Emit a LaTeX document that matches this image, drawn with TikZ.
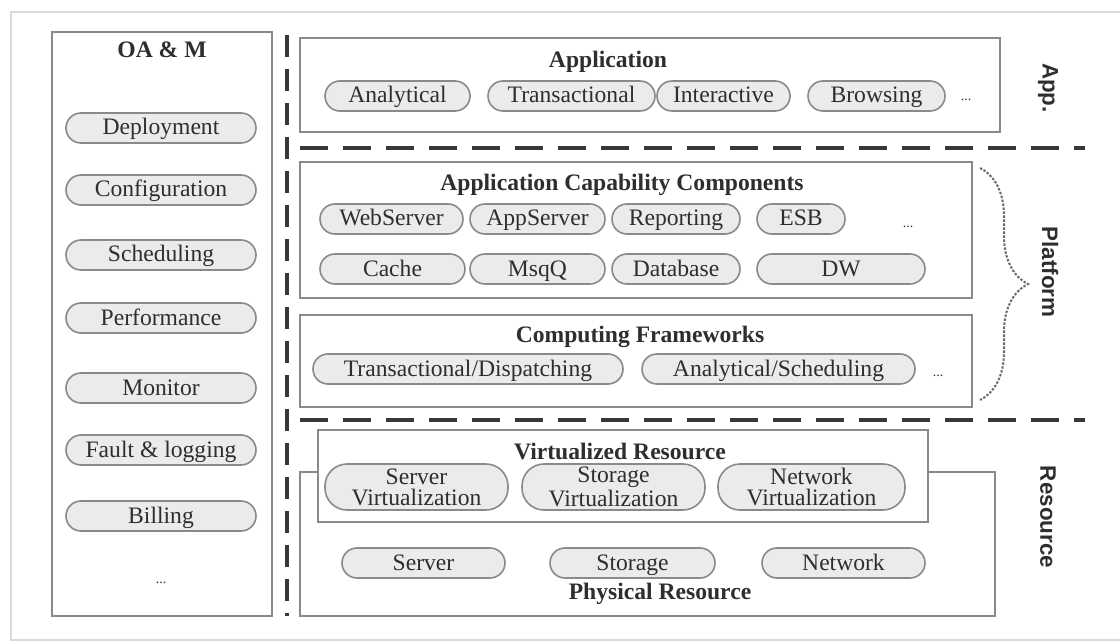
\documentclass[tikz,border=0pt]{standalone}
\usepackage{fontspec}
\setmainfont{Liberation Serif}
\newfontfamily\sidefont{Liberation Sans}
\usepackage{tikz}
\usetikzlibrary{positioning,decorations.pathreplacing}
\definecolor{edge}{HTML}{8A8A8A}
\definecolor{pillgray}{HTML}{EBEBEB}
\definecolor{inkgray}{HTML}{2E2E2E}
\definecolor{sepdark}{HTML}{383838}
\tikzset{
  layer/.style ={draw=edge,line width=1pt,fill=white},
  pillbase/.style={draw=edge,line width=0.8pt,fill=pillgray,inner sep=0pt,
                 align=center,text=inkgray,font=\fontsize{11.8}{10.5}\selectfont},
  pill/.style  ={pillbase,rounded corners=7.5pt,minimum height=15pt,
                 text height=9pt,text depth=2pt},
  tallpill/.style={pillbase,rounded corners=11pt,minimum height=23pt},
  ttl/.style   ={font=\fontsize{11.8}{12}\selectfont\bfseries,text=inkgray},
  more/.style  ={font=\fontsize{7}{8}\selectfont,text=inkgray},
  side/.style  ={font=\sidefont\fontsize{11.2}{12}\selectfont\bfseries,rotate=-90,text=inkgray},
  hsep/.style  ={draw=sepdark,line width=2pt,dash pattern=on 14pt off 7.5pt},
  vsep/.style  ={draw=sepdark,line width=2.4pt,dash pattern=on 11pt off 6pt}
}
\begin{document}
\begin{tikzpicture}[x=0.5pt,y=-0.5pt]
  \useasboundingbox (0,0) rectangle (1120,642);
  \draw[black!15,line width=1pt] (1120,12) -- (11,12) -- (11,640) -- (1120,640);

  % OA&M column
  \draw[layer] (52,32) rectangle (272,616);
  \node[ttl] (oam) at (162,50) {OA \& M};
  \node[pill,minimum width=95pt] (dep)  at (161,128) {Deployment};
  \node[pill,minimum width=95pt] (conf) at (161,190) {Configuration};
  \node[pill,minimum width=95pt] (sched) at (161,255) {Scheduling};
  \node[pill,minimum width=95pt] (perf) at (161,318) {Performance};
  \node[pill,minimum width=95pt] (mon)  at (161,388) {Monitor};
  \node[pill,minimum width=95pt] (fault) at (161,450) {Fault \& logging};
  \node[pill,minimum width=95pt] (bill) at (161,516) {Billing};
  \node[more] (oammore) at (161,583) {...};

  \draw[vsep] (287,35) -- (287,616);

  % application layer
  \draw[layer] (300,38) rectangle (1000,132);
  \node[ttl] (app) at (608,62) {Application};
  \node[pill,minimum width=72.5pt] (ana)  at (397.5,96) {Analytical};
  \node[pill,minimum width=83.5pt] (trans) at (571.5,96) {Transactional};
  \node[pill,minimum width=66.5pt] (inter) at (723.5,96) {Interactive};
  \node[pill,minimum width=68.5pt] (brow) at (876.5,96) {Browsing};
  \node[more] (appmore) at (966,100) {...};

  \draw[hsep] (300,148) -- (1085,148);

  % platform layer
  \draw[layer] (300,162) rectangle (972,298);
  \node[ttl] (acc) at (622,185) {Application Capability Components};
  \node[pill,minimum width=71.5pt] (web)  at (391.5,219) {WebServer};
  \node[pill,minimum width=67.5pt] (apps) at (537.5,219) {AppServer};
  \node[pill,minimum width=64pt]   (rep)  at (676,219) {Reporting};
  \node[pill,minimum width=44pt]   (esb)  at (801,219) {ESB};
  \node[more] (accmore) at (908,227) {...};
  \node[pill,minimum width=72.5pt] (cache) at (392.5,269) {Cache};
  \node[pill,minimum width=67.5pt] (msq)  at (537.5,269) {MsqQ};
  \node[pill,minimum width=64pt]   (db)   at (676,269) {Database};
  \node[pill,minimum width=84pt]   (dw)   at (841,269) {DW};

  \draw[layer] (300,315) rectangle (972,407);
  \node[ttl] (cf) at (640,337) {Computing Frameworks};
  \node[pill,minimum width=155pt]   (tdisp) at (468,369) {Transactional/Dispatching};
  \node[pill,minimum width=136.5pt] (asch)  at (778.5,369) {Analytical/Scheduling};
  \node[more] (cfmore) at (938,376) {...};

  \draw[edge!75!black,line width=1pt,dash pattern=on 1.2pt off 0.8pt,decorate,
        decoration={brace,amplitude=24pt}] (980,168) -- (980,400);

  \draw[hsep] (300,420) -- (1085,420);

  % resource layer
  \draw[layer] (300,472) rectangle (995,616);
  \draw[layer] (318,430) rectangle (928,522);
  \node[ttl] (vr) at (620,451) {Virtualized Resource};
  \node[tallpill,minimum width=91.5pt] (sv)  at (416.5,487) {Server\\Virtualization};
  \node[tallpill,minimum width=91.5pt] (stv) at (613.5,487) {Storage\\Virtualization};
  \node[tallpill,minimum width=93.5pt] (nv)  at (811.5,487) {Network\\Virtualization};
  \node[pill,minimum width=81.5pt] (srv) at (423.5,563) {Server};
  \node[pill,minimum width=82.5pt] (sto) at (632.5,563) {Storage};
  \node[pill,minimum width=81.5pt] (net) at (843.5,563) {Network};
  \node[ttl] (pr) at (660,594) {Physical Resource};

  % layer names
  \node[side] (lapp)  at (1048,88)  {App.};
  \node[side] (lplat) at (1050,272) {Platform};
  \node[side] (lres)  at (1048,517) {Resource};
\end{tikzpicture}
\end{document}
